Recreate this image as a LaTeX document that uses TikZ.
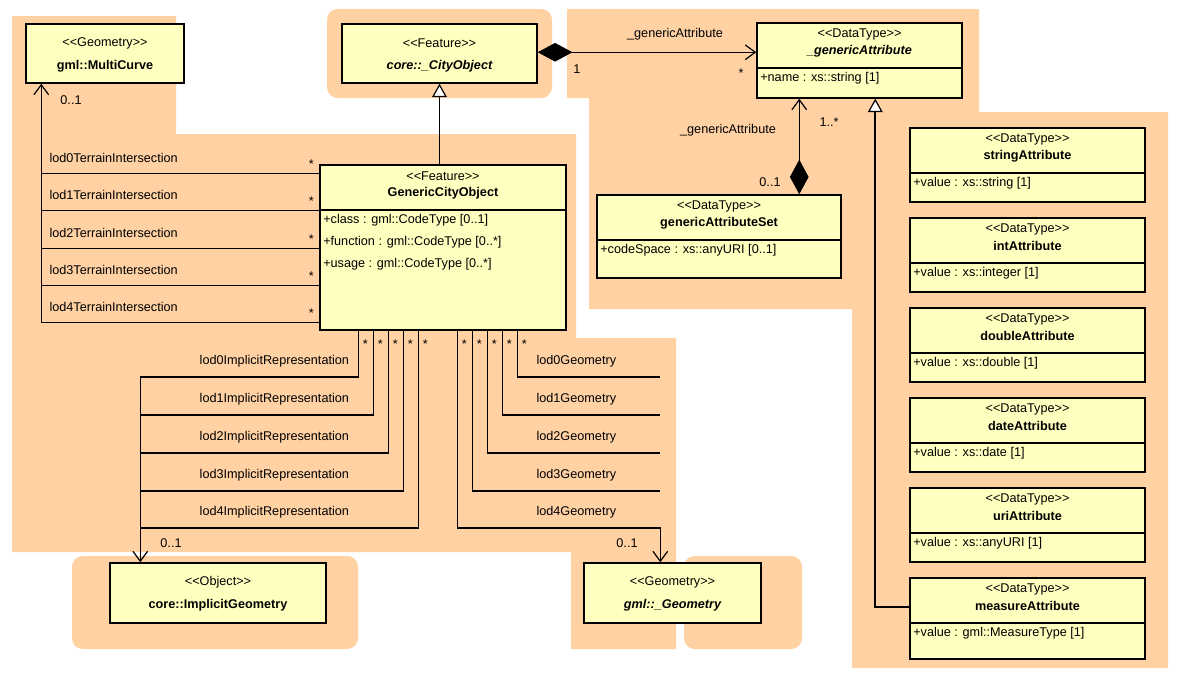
\documentclass[tikz,border=0pt]{standalone}
\usepackage{fontspec}
\setmainfont{Liberation Sans}
\usetikzlibrary{arrows.meta,calc,fit}
\definecolor{bgor}{RGB}{255,209,163}
\definecolor{boxy}{RGB}{255,255,192}
\tikzset{
  cls/.style={draw=black,line width=1.1pt,fill=boxy,inner sep=0pt},
  ln/.style={draw=black,line width=0.9pt},
  assoc/.style={ln,-{Straight Barb[length=7.5pt,width=11pt,line width=0.9pt]}},
  gen/.style={ln,-{Triangle[open,length=10pt,width=11pt,fill=white,line width=0.9pt]}},
  comp/.style={ln,{Diamond[length=26pt,width=14pt]}-{Straight Barb[length=7.5pt,width=11pt,line width=0.9pt]}},
  compv/.style={ln,{Diamond[length=26pt,width=14pt]}-{Straight Barb[length=7.5pt,width=11pt,line width=0.9pt]}},
  txt/.style={inner sep=0pt,font=\fontsize{9.5}{11}\selectfont},
  attr/.style={inner sep=0pt,align=left,font=\fontsize{9.5}{16.5}\selectfont},
  bg/.style={fill=bgor,draw=none},
}
\newcommand\clsA[9]{%
  \node[cls,fit={(#2,#3)(#4,#5)}] (#1) {};
  \draw[line width=1.1pt] (#2,#6) -- (#4,#6);
  \node[txt] at ({(#2+#4)/2},#3+11) {<{}<#7>{}>};
  \node[txt,font=\fontsize{9.5}{11}\selectfont\bfseries] at ({(#2+#4)/2},#3+28) {#8};
  \node[attr,anchor=north west] at (#2+3,#6+4) {#9};
}
\newcommand\clsB[7]{%
  \node[cls,fit={(#2,#3)(#4,#5)}] (#1) {};
  \node[txt] at ({(#2+#4)/2},#3+19) {<{}<#6>{}>};
  \node[txt,font=\fontsize{9.5}{11}\selectfont\bfseries] at ({(#2+#4)/2},#3+42) {#7};
}
\begin{document}
\begin{tikzpicture}[x=0.75pt,y=-0.75pt]
\useasboundingbox (0,0) rectangle (1182,682);
% backgrounds
\fill[bg] (12,16) -- (176,16) -- (176,134) -- (576,134) -- (576,338) -- (676,338) -- (676,649) -- (571,649) -- (571,552) -- (12,552) -- cycle;
\fill[bg,rounded corners=8pt] (327,9) rectangle (552,98);
\fill[bg] (567,9) -- (979,9) -- (979,112) -- (1168,112) -- (1168,668) -- (852,668) -- (852,309) -- (589,309) -- (589,98) -- (567,98) -- cycle;
\fill[bg,rounded corners=8pt] (72,556) rectangle (358,649);
\fill[bg,rounded corners=8pt] (684,556) rectangle (802,649);
% classes
\clsB{mc}{26}{24}{184}{83}{Geometry}{gml::MultiCurve}
\clsB{co}{342}{24}{537}{83}{Feature}{\itshape core::\_CityObject}
\clsA{gco}{320}{165}{566}{330}{210}{Feature}{GenericCityObject}{+class : gml::CodeType [0..1]\\+function : gml::CodeType [0..*]\\+usage : gml::CodeType [0..*]}
\clsA{ga}{757}{23}{962}{98}{68}{DataType}{\itshape \_genericAttribute}{+name : xs::string [1]}
\clsA{gas}{597}{195}{841}{278}{240}{DataType}{genericAttributeSet}{+codeSpace : xs::anyURI [0..1]}
\clsA{sa}{910}{128}{1145}{202}{173}{DataType}{stringAttribute}{+value : xs::string [1]}
\clsA{ia}{910}{218}{1145}{292}{263}{DataType}{intAttribute}{+value : xs::integer [1]}
\clsA{da}{910}{308}{1145}{382}{353}{DataType}{doubleAttribute}{+value : xs::double [1]}
\clsA{dta}{910}{398}{1145}{472}{443}{DataType}{dateAttribute}{+value : xs::date [1]}
\clsA{ua}{910}{488}{1145}{562}{533}{DataType}{uriAttribute}{+value : xs::anyURI [1]}
\clsA{ma}{910}{578}{1145}{659}{623}{DataType}{measureAttribute}{+value : gml::MeasureType [1]}
\clsB{ig}{110}{563}{326}{623}{Object}{core::ImplicitGeometry}
\clsB{gg}{584}{563}{761}{623}{Geometry}{\itshape gml::\_Geometry}
% composition _CityObject -> _genericAttribute
\draw[comp] ($(co.north east)+(0,29)$) -- ($(ga.north west)+(0,30)$);
\node[txt] at (675,34) {\_genericAttribute};
\node[txt] at (577,69) {1};
\node[txt] at (741,73) {*};
% generalization GCO -> _CityObject
\draw[gen] (gco.north -| co.south) -- (co.south);
% terrain intersections
\coordinate (mcfoot) at ($(mc.south west)+(16,0)$);
\foreach \k/\d in {0/9,1/46,2/84,3/121,4/158}{
  \coordinate (t\k) at ($(gco.north west)+(0,\d)$);
  \node[txt,anchor=west] at ($(t\k -| mcfoot)+(8,-15)$) {lod\k TerrainIntersection};
  \node[txt] at ($(t\k)+(-8,-9)$) {*};
}
\draw[assoc] (t4) -| (mcfoot);
\foreach \k in {0,1,2,3}{ \draw[ln] (t\k) -- (t\k -| mcfoot); }
\node[txt] at (71,100) {0..1};
% implicit representations
\coordinate (igfoot) at ($(ig.north west)+(31,0)$);
\coordinate (ggfoot) at ($(gg.north west)+(77,0)$);
\foreach \k/\yy in {0/377,1/415,2/453,3/491,4/528}{ \coordinate (r\k) at (0,\yy); }
\foreach \k/\o in {0/39,1/54,2/69,3/84,4/99}{
  \coordinate (iv\k) at ($(gco.south west)+(\o,0)$);
  \node[txt] at ($(iv\k)+(7,13)$) {*};
  \node[txt,anchor=east] at ($(r\k -| igfoot)+(209,-16)$) {lod\k ImplicitRepresentation};
}
\draw[assoc] (iv0) |- (r0 -| igfoot) -- (igfoot);
\foreach \k in {1,2,3,4}{ \draw[ln] (iv\k) |- (r\k -| igfoot); }
\node[txt] at (171,543) {0..1};
% geometries
\foreach \k/\o in {0/198,1/183,2/168,3/153,4/138}{
  \coordinate (gv\k) at ($(gco.south west)+(\o,0)$);
  \node[txt] at ($(gv\k)+(7,13)$) {*};
  \node[txt,anchor=west] at ($(r\k -| ggfoot)+(-124,-16)$) {lod\k Geometry};
}
\draw[assoc] (gv4) |- (r4 -| ggfoot) -- (ggfoot);
\foreach \k in {0,1,2,3}{ \draw[ln] (gv\k) |- (r\k -| ggfoot); }
\node[txt] at (627,543) {0..1};
% composition genericAttributeSet -> _genericAttribute
\coordinate (gtop) at ($(gas.north west)+(203,0)$);
\draw[compv] (gtop) -- (gtop |- ga.south);
\node[txt] at (728,130) {\_genericAttribute};
\node[txt] at (829,122) {1..*};
\node[txt] at (770,182) {0..1};
% generalization tree
\coordinate (tx) at ($(ga.south west)+(119,0)$);
\draw[gen,line width=1.3pt] ($(ma.north west)+(0,30)$) -| (tx);
\foreach \n in {sa,ia,da,dta,ua}{ \draw[ln] ($(\n.north west)+(0,30)$) -- ($(\n.north west)+(0,30)$ -| tx); }
\draw[ln] ($(gas.north east)+(0,32)$) -- ($(gas.north east)+(0,32)$ -| tx);
\end{tikzpicture}
\end{document}
